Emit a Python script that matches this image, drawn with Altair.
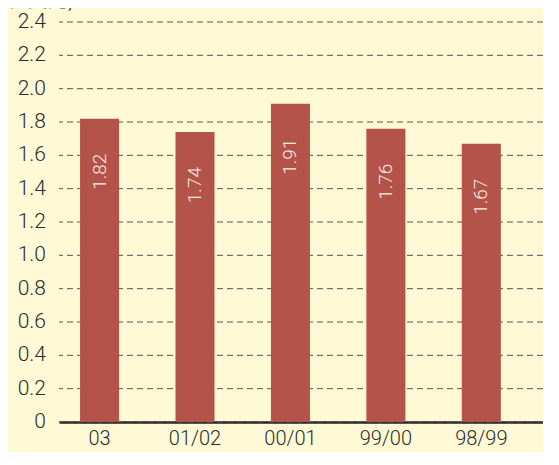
import altair as alt
import pandas as pd

categories = ["03", "01/02", "00/01", "99/00", "98/99"]
values = [1.82, 1.74, 1.91, 1.76, 1.67]
labels = ["1.82", "1.74", "1.91", "1.76", "1.67"]
y_ticks = [0, 0.2, 0.4, 0.6, 0.8, 1.0, 1.2, 1.4, 1.6, 1.8, 2.0, 2.2, 2.4]
y_tick_labels = ["0", "0.2", "0.4", "0.6", "0.8", "1.0", "1.2", "1.4", "1.6",
                 "1.8", "2.0", "2.2", "2.4"]
unit = "(亿美元)"

df = pd.DataFrame({"cat": categories, "val": values, "lab": labels})
ticks_df = pd.DataFrame({"t": y_ticks, "tl": y_tick_labels})

BG = "#FFF9D6"
BAR = "#B3534A"
FONT = "Roboto"

yscale = alt.Scale(domain=[0, 2.4], nice=False, zero=True)

x = alt.X("cat:N", sort=categories, title=None,
          scale=alt.Scale(paddingInner=0.591, paddingOuter=0.331, align=0.333),
          axis=alt.Axis(labelAngle=0, ticks=False, domain=True, domainColor="#222222",
                        domainWidth=2.5, labelFontSize=20, labelFont=FONT,
                        labelFontWeight=300, labelColor="#2b2b2b", labelPadding=6,
                        grid=False))
y = alt.Y("val:Q", title=None, scale=yscale, axis=None)

grid = alt.Chart(ticks_df).mark_rule(color="#555555", strokeWidth=1,
                                     strokeDash=[6, 4]).encode(
    y=alt.Y("t:Q", scale=yscale, axis=None))

ylabels = alt.Chart(ticks_df).mark_text(align="right", baseline="middle",
                                        font=FONT, fontWeight=300, fontSize=21,
                                        color="#2b2b2b").encode(
    x=alt.value(-13),
    y=alt.Y("t:Q", scale=yscale, axis=None),
    text="tl:N")

bars = alt.Chart(df).mark_bar(color=BAR).encode(x=x, y=y)

text = alt.Chart(df).mark_text(angle=270, align="right", baseline="middle", dx=-35,
                               font=FONT, fontWeight=300, fontSize=19,
                               color="#FBEDE8").encode(x=x, y=y, text="lab:N")

unit_df = pd.DataFrame({"u": [unit]})
unit_text = alt.Chart(unit_df).mark_text(align="left", baseline="alphabetic",
                                         font="Noto Sans CJK SC", fontSize=20,
                                         color="#333333").encode(
    x=alt.value(-58), y=alt.value(-15), text="u:N")

chart = alt.layer(grid, bars, text, ylabels, unit_text).properties(
    width=484, height=400,
    background=BG,
    padding={"left": 51, "top": 14, "right": 0, "bottom": 30},
    autosize=alt.AutoSizeParams(type="none"),
).configure_view(stroke=None)

chart.save("out.html", embed_options={"renderer": "svg", "actions": False})
